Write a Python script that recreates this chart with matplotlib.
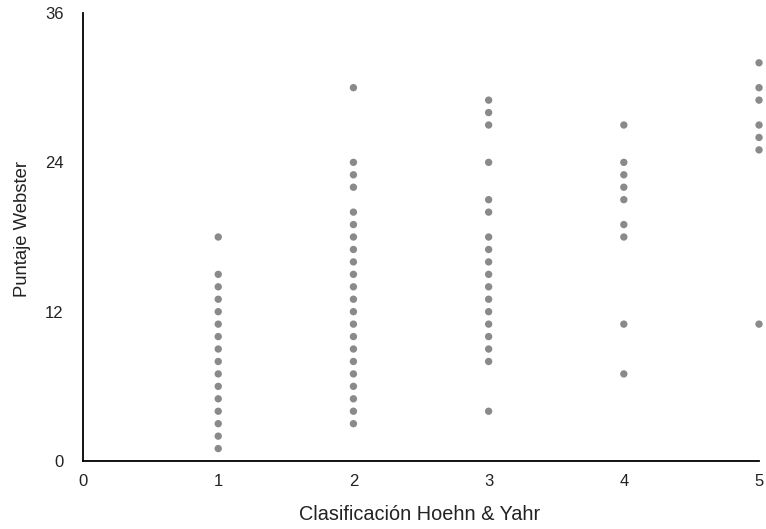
import matplotlib
matplotlib.use("Agg")
import matplotlib.pyplot as plt

plt.rcParams['font.family'] = ['Liberation Sans', 'DejaVu Sans']

# Puntaje Webster por estadio Hoehn & Yahr
estadio_1 = [1, 2, 3, 4, 5, 6, 7, 8, 9, 10, 11, 12, 13, 14, 15, 18]
estadio_2 = [3, 4, 5, 6, 7, 8, 9, 10, 11, 12, 13, 14, 15, 16, 17, 18, 19, 20, 22, 23, 24, 30]
estadio_3 = [4, 8, 9, 10, 11, 12, 13, 14, 15, 16, 17, 18, 20, 21, 24, 27, 28, 29]
estadio_4 = [7, 11, 18, 19, 21, 22, 23, 24, 27]
estadio_5 = [11, 25, 26, 27, 29, 30, 32]

grupos = [estadio_1, estadio_2, estadio_3, estadio_4, estadio_5]
xticks = [0, 1, 2, 3, 4, 5]
yticks = [0, 12, 24, 36]

fig = plt.figure(figsize=(7.66, 5.29), dpi=100)
ax = fig.add_axes([0.1084, 0.1285, 0.8825, 0.8469])

for i, vals in enumerate(grupos, start=1):
    ax.scatter([i] * len(vals), vals, s=28, color='#8a8a8a', edgecolors='none',
               clip_on=False, zorder=3)

ax.set_xlim(0, 5)
ax.set_ylim(0, 36)
ax.set_xticks(xticks)
ax.set_yticks(yticks)
ax.tick_params(axis='both', length=0, labelsize=12, colors='#222222')
ax.tick_params(axis='x', pad=9)
ax.tick_params(axis='y', pad=14)

for side in ['top', 'right']:
    ax.spines[side].set_visible(False)
for side in ['left', 'bottom']:
    ax.spines[side].set_linewidth(1.3)
    ax.spines[side].set_color('black')

ax.set_xlabel("Clasificación Hoehn & Yahr", fontsize=14.3, color='#222222')
ax.set_ylabel("Puntaje Webster", fontsize=13.3, color='#222222')
ax.xaxis.set_label_coords(0.4985, -0.099)
ax.yaxis.set_label_coords(-0.077, 0.518)

fig.savefig("out.png", dpi=100)
